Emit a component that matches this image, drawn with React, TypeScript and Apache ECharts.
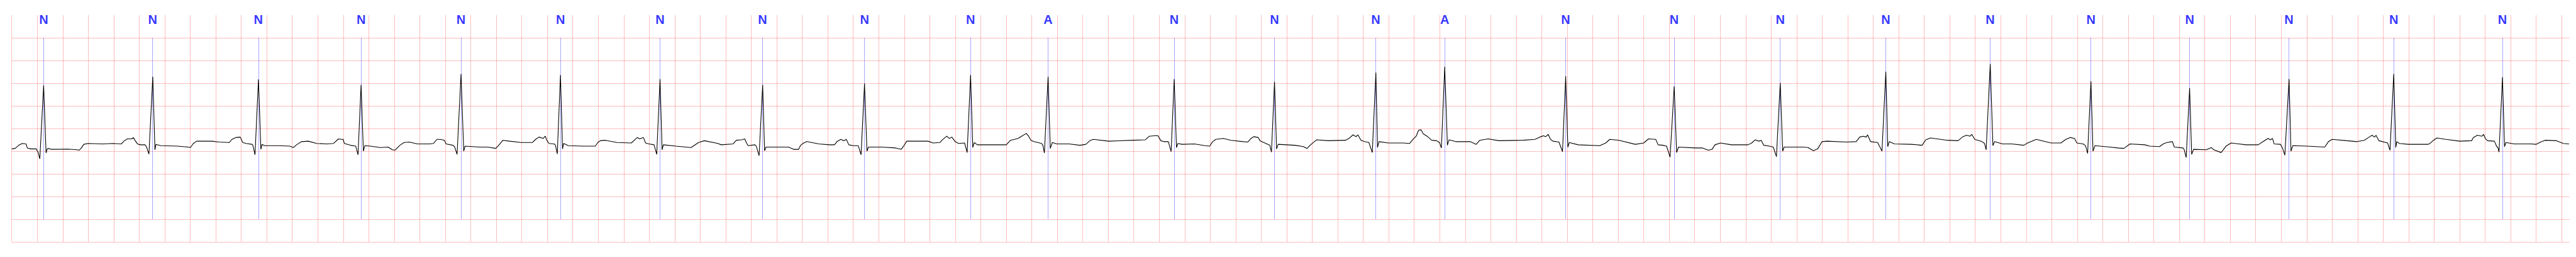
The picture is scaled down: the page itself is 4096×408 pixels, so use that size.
import { useEffect, useRef } from "react";
import * as echarts from "echarts";

// ---------- layout (target pixels) ----------
const W = 4096;
const H = 408;
const S = 0.544;

// ---------- axis settings ----------
const X_GRID_MAX = 20; // seconds covered by the big-box grid
const X_GRID_STEP = 0.2; // one big box = 0.2 s
const X_TRACE_MAX = 20.063; // seconds spanned by the trace area
const Y_MIN = -2.5; // mV
const Y_MAX = 2.0;
const Y_STEP = 0.5;
const MARK_LOW = -2.0;
const MARK_HIGH = 2.0;

// ---------- beat annotations ----------
const BEAT_TIMES = [
  0.25, 1.105, 1.934, 2.74, 3.524, 4.304, 5.085, 5.889, 6.689, 7.52, 8.129, 9.118, 9.905, 10.699, 11.24,
  12.189, 13.04, 13.872, 14.7, 15.519, 16.309, 17.083, 17.862, 18.684, 19.537,
];
const BEAT_LABELS = [
  "N", "N", "N", "N", "N", "N", "N", "N", "N", "N", "A", "N", "N", "N", "A",
  "N", "N", "N", "N", "N", "N", "N", "N", "N", "N",
];

// ---------- ECG trace: [time s, mV] ----------
const ECG: [number, number][] = [
  [0.0, -0.45], [0.026, -0.44], [0.055, -0.37], [0.082, -0.33], [0.112, -0.34], [0.122, -0.43], [0.149, -0.45], [0.192, -0.45], [0.206, -0.52], [0.22, -0.67], [0.25, 0.95], [0.269, -0.54], [0.278, -0.45], [0.286, -0.44], [0.31, -0.46], [0.444, -0.455], [0.511, -0.47], [0.528, -0.48], [0.546, -0.43], [0.565, -0.35], [0.597, -0.33], [0.713, -0.34], [0.793, -0.33], [0.86, -0.34], [0.879, -0.28], [0.906, -0.23], [0.941, -0.23], [0.954, -0.2], [0.968, -0.27], [0.986, -0.34], [1.008, -0.36], [1.045, -0.36], [1.056, -0.4], [1.076, -0.565],
  [1.106, 1.14], [1.123, -0.47], [1.131, -0.35], [1.169, -0.38], [1.303, -0.39], [1.384, -0.41], [1.402, -0.42], [1.424, -0.33], [1.451, -0.28], [1.571, -0.28], [1.625, -0.3], [1.706, -0.31], [1.727, -0.24], [1.759, -0.2], [1.792, -0.19], [1.812, -0.31], [1.838, -0.33], [1.885, -0.35], [1.891, -0.37], [1.908, -0.58],
  [1.935, 1.08], [1.954, -0.46], [1.963, -0.35], [1.983, -0.38], [2.089, -0.38], [2.181, -0.39], [2.21, -0.42], [2.234, -0.36], [2.273, -0.29], [2.326, -0.28], [2.392, -0.33], [2.47, -0.34], [2.524, -0.33], [2.563, -0.23], [2.59, -0.24], [2.599, -0.24], [2.609, -0.33], [2.656, -0.37], [2.698, -0.39], [2.716, -0.58],
  [2.74, 0.96], [2.758, -0.5], [2.769, -0.38], [2.814, -0.39], [2.892, -0.42], [2.952, -0.41], [2.985, -0.47], [3.004, -0.48], [3.045, -0.37], [3.077, -0.31], [3.117, -0.3], [3.183, -0.34], [3.275, -0.34], [3.308, -0.33], [3.335, -0.24], [3.361, -0.24], [3.394, -0.26], [3.407, -0.34], [3.46, -0.37], [3.473, -0.4], [3.493, -0.57],
  [3.524, 1.2], [3.545, -0.5], [3.555, -0.39], [3.67, -0.41], [3.736, -0.41], [3.796, -0.44], [3.826, -0.35], [3.852, -0.26], [3.905, -0.28], [3.997, -0.31], [4.083, -0.31], [4.109, -0.24], [4.135, -0.19], [4.168, -0.22], [4.185, -0.17], [4.197, -0.26], [4.214, -0.33], [4.254, -0.34], [4.265, -0.37], [4.279, -0.56],
  [4.304, 1.18], [4.32, -0.45], [4.329, -0.33], [4.366, -0.38], [4.485, -0.39], [4.577, -0.39], [4.597, -0.31], [4.616, -0.27], [4.656, -0.26], [4.748, -0.31], [4.86, -0.32], [4.887, -0.25], [4.906, -0.2], [4.926, -0.23], [4.955, -0.2], [4.972, -0.32], [4.998, -0.34], [5.038, -0.36], [5.059, -0.57],
  [5.085, 1.09], [5.101, -0.47], [5.111, -0.36], [5.21, -0.39], [5.328, -0.42], [5.387, -0.31], [5.433, -0.27], [5.539, -0.33], [5.565, -0.36], [5.658, -0.34], [5.684, -0.26], [5.724, -0.25], [5.75, -0.23], [5.763, -0.32], [5.776, -0.38], [5.829, -0.36], [5.84, -0.39], [5.862, -0.6],
  [5.89, 0.96], [5.905, -0.49], [5.916, -0.41], [6.025, -0.41], [6.092, -0.41], [6.132, -0.46], [6.172, -0.46], [6.188, -0.37], [6.212, -0.32], [6.236, -0.29], [6.332, -0.34], [6.413, -0.36], [6.453, -0.36], [6.473, -0.29], [6.503, -0.24], [6.526, -0.27], [6.546, -0.24], [6.566, -0.36], [6.599, -0.38], [6.64, -0.38], [6.662, -0.58],
  [6.689, 0.99], [6.708, -0.5], [6.72, -0.41], [6.826, -0.41], [6.933, -0.43], [6.976, -0.46], [6.998, -0.38], [7.02, -0.28], [7.093, -0.28], [7.187, -0.28], [7.227, -0.32], [7.28, -0.31], [7.3, -0.25], [7.334, -0.17], [7.354, -0.22], [7.374, -0.19], [7.4, -0.29], [7.427, -0.33], [7.474, -0.32], [7.494, -0.53],
  [7.521, 1.18], [7.538, -0.42], [7.55, -0.31], [7.574, -0.36], [7.694, -0.36], [7.801, -0.36], [7.834, -0.26], [7.894, -0.22], [7.921, -0.17], [7.958, -0.11], [7.976, -0.17], [7.994, -0.26], [8.018, -0.29], [8.078, -0.33], [8.088, -0.37], [8.1, -0.54],
  [8.129, 1.14], [8.146, -0.44], [8.162, -0.31], [8.198, -0.34], [8.294, -0.34], [8.378, -0.37], [8.425, -0.35], [8.461, -0.26], [8.485, -0.24], [8.605, -0.28], [8.797, -0.26], [8.892, -0.25], [8.923, -0.17], [8.965, -0.16], [8.991, -0.16], [9.013, -0.27], [9.036, -0.29], [9.072, -0.29], [9.094, -0.51],
  [9.118, 1.09], [9.136, -0.42], [9.147, -0.33], [9.18, -0.35], [9.276, -0.34], [9.36, -0.38], [9.396, -0.39], [9.42, -0.29], [9.444, -0.24], [9.504, -0.22], [9.563, -0.26], [9.659, -0.29], [9.695, -0.3], [9.72, -0.22], [9.743, -0.18], [9.777, -0.2], [9.791, -0.27], [9.837, -0.33], [9.868, -0.37], [9.881, -0.52],
  [9.905, 1.03], [9.921, -0.45], [9.934, -0.35], [10.065, -0.37], [10.131, -0.4], [10.16, -0.44], [10.188, -0.36], [10.235, -0.25], [10.329, -0.27], [10.461, -0.26], [10.489, -0.22], [10.521, -0.14], [10.545, -0.18], [10.559, -0.14], [10.583, -0.26], [10.611, -0.29], [10.645, -0.31], [10.672, -0.53],
  [10.7, 1.23], [10.713, -0.42], [10.724, -0.29], [10.799, -0.32], [10.912, -0.32], [10.965, -0.33], [10.988, -0.25], [11.016, -0.17], [11.035, -0.04], [11.054, -0.03], [11.072, -0.12], [11.101, -0.17], [11.138, -0.26], [11.176, -0.27], [11.199, -0.31], [11.214, -0.43],
  [11.24, 1.36], [11.261, -0.37], [11.274, -0.25], [11.327, -0.29], [11.44, -0.29], [11.487, -0.35], [11.515, -0.26], [11.581, -0.23], [11.666, -0.27], [11.854, -0.26], [11.948, -0.24], [11.986, -0.19], [12.014, -0.16], [12.033, -0.18], [12.051, -0.13], [12.07, -0.24], [12.089, -0.28], [12.136, -0.3], [12.164, -0.51],
  [12.189, 1.15], [12.206, -0.41], [12.217, -0.31], [12.287, -0.36], [12.456, -0.38], [12.503, -0.32], [12.535, -0.24], [12.607, -0.26], [12.735, -0.35], [12.801, -0.32], [12.838, -0.23], [12.895, -0.24], [12.914, -0.36], [12.952, -0.37], [12.98, -0.39], [13.008, -0.63],
  [13.04, 0.93], [13.059, -0.53], [13.074, -0.41], [13.206, -0.43], [13.262, -0.43], [13.309, -0.48], [13.337, -0.46], [13.36, -0.36], [13.403, -0.32], [13.488, -0.36], [13.62, -0.36], [13.648, -0.32], [13.676, -0.25], [13.704, -0.28], [13.723, -0.26], [13.742, -0.37], [13.789, -0.39], [13.817, -0.41], [13.842, -0.62],
  [13.872, 1.0], [13.891, -0.5], [13.902, -0.41], [14.053, -0.41], [14.09, -0.42], [14.132, -0.49], [14.165, -0.45], [14.2, -0.29], [14.241, -0.28], [14.391, -0.3], [14.467, -0.29], [14.495, -0.19], [14.523, -0.17], [14.546, -0.19], [14.557, -0.14], [14.58, -0.29], [14.636, -0.31], [14.67, -0.5],
  [14.7, 1.25], [14.715, -0.4], [14.727, -0.29], [14.768, -0.34], [14.9, -0.35], [14.985, -0.37], [15.013, -0.25], [15.051, -0.21], [15.182, -0.26], [15.267, -0.27], [15.305, -0.18], [15.333, -0.15], [15.361, -0.17], [15.374, -0.13], [15.398, -0.24], [15.455, -0.29], [15.474, -0.33], [15.487, -0.47],
  [15.519, 1.42], [15.54, -0.38], [15.553, -0.29], [15.615, -0.34], [15.687, -0.34], [15.783, -0.37], [15.812, -0.32], [15.88, -0.24], [15.996, -0.32], [16.073, -0.32], [16.112, -0.24], [16.147, -0.2], [16.18, -0.22], [16.199, -0.32], [16.248, -0.34], [16.267, -0.38], [16.283, -0.55],
  [16.309, 1.04], [16.325, -0.5], [16.34, -0.38], [16.46, -0.41], [16.519, -0.43], [16.567, -0.44], [16.615, -0.34], [16.731, -0.36], [16.77, -0.39], [16.847, -0.4], [16.876, -0.34], [16.905, -0.31], [16.948, -0.29], [16.963, -0.41], [17.031, -0.43], [17.041, -0.47], [17.056, -0.64],
  [17.083, 0.89], [17.099, -0.57], [17.114, -0.46], [17.214, -0.47], [17.253, -0.42], [17.272, -0.47], [17.33, -0.53], [17.369, -0.39], [17.408, -0.32], [17.524, -0.36], [17.621, -0.36], [17.659, -0.29], [17.698, -0.22], [17.717, -0.25], [17.733, -0.22], [17.746, -0.34], [17.795, -0.35], [17.81, -0.42], [17.83, -0.59],
  [17.863, 1.09], [17.878, -0.5], [17.892, -0.38], [18.007, -0.39], [18.143, -0.41], [18.172, -0.29], [18.201, -0.24], [18.317, -0.27], [18.395, -0.29], [18.453, -0.26], [18.491, -0.19], [18.514, -0.15], [18.534, -0.19], [18.545, -0.15], [18.568, -0.27], [18.636, -0.32], [18.655, -0.48],
  [18.684, 1.2], [18.7, -0.42], [18.708, -0.29], [18.728, -0.33], [18.8, -0.35], [18.951, -0.35], [18.969, -0.33], [18.996, -0.26], [19.023, -0.21], [19.094, -0.24], [19.201, -0.28], [19.295, -0.27], [19.309, -0.2], [19.34, -0.15], [19.376, -0.17], [19.389, -0.13], [19.402, -0.22], [19.42, -0.27], [19.474, -0.28], [19.492, -0.4], [19.501, -0.42], [19.51, -0.52],
  [19.537, 1.13], [19.553, -0.4], [19.564, -0.31], [19.63, -0.34], [19.764, -0.34], [19.8, -0.35], [19.836, -0.3], [19.872, -0.26], [19.961, -0.27], [20.014, -0.33], [20.059, -0.34],
];

const GRID_COLOR = "rgba(255,0,0,0.26)";
const MARK_COLOR = "rgba(0,0,255,0.5)";
const LABEL_COLOR = "#0000ff";

export default function App() {
  const ref = useRef<HTMLDivElement>(null);

  useEffect(() => {
    if (!ref.current) return;
    const chart = echarts.init(ref.current, undefined, { renderer: "svg" });
    const left = 34.4 * S;
    const option: any = {
      animation: false,
      backgroundColor: "#ffffff",
      grid: [
        { left, right: W - 7487.5 * S, top: 44 * S, bottom: H - 706 * S },
        { left, right: W - 7510.5 * S, top: 110 * S, bottom: H - 706 * S },
      ],
      xAxis: [
        {
          gridIndex: 0,
          type: "value",
          min: 0,
          max: X_GRID_MAX,
          interval: X_GRID_STEP,
          axisLine: { show: false },
          axisTick: { show: false },
          axisLabel: { show: false },
          splitLine: { show: true, lineStyle: { color: GRID_COLOR, width: 1 } },
        },
        { gridIndex: 1, type: "value", min: 0, max: X_TRACE_MAX, show: false },
      ],
      yAxis: [
        { gridIndex: 0, type: "value", min: 0, max: 1, show: false },
        {
          gridIndex: 1,
          type: "value",
          min: Y_MIN,
          max: Y_MAX,
          interval: Y_STEP,
          axisLine: { show: false },
          axisTick: { show: false },
          axisLabel: { show: false },
          splitLine: { show: true, lineStyle: { color: GRID_COLOR, width: 1 } },
        },
      ],
      series: [
        {
          type: "line",
          xAxisIndex: 1,
          yAxisIndex: 1,
          data: ECG,
          symbol: "none",
          showSymbol: false,
          silent: true,
          z: 5,
          lineStyle: { color: "#000000", width: 1.1 },
          markLine: {
            silent: true,
            symbol: ["none", "none"],
            label: { show: false },
            lineStyle: { color: MARK_COLOR, width: 0.7, type: "solid" },
            emphasis: { disabled: true },
            data: BEAT_TIMES.map((t) => [{ coord: [t, MARK_LOW] }, { coord: [t, MARK_HIGH] }]),
            z: 3,
          },
        },
        {
          type: "scatter",
          xAxisIndex: 1,
          yAxisIndex: 1,
          data: BEAT_TIMES.map((t) => [t, MARK_HIGH]),
          symbolSize: 1,
          clip: false,
          silent: true,
          itemStyle: { color: "rgba(0,0,0,0)" },
          label: {
            show: true,
            position: ["50%", -28],
            align: "center",
            verticalAlign: "middle",
            formatter: (p: any) => BEAT_LABELS[p.dataIndex],
            color: LABEL_COLOR,
            fontWeight: "bold",
            fontSize: 20,
            fontFamily: "'Liberation Sans', Arial, sans-serif",
          },
        },
      ],
    };
    chart.setOption(option);
    return () => chart.dispose();
  }, []);

  return (
    <div
      ref={ref}
      style={{ position: "fixed", left: 0, top: 0, width: W, height: H, background: "#ffffff" }}
    />
  );
}
